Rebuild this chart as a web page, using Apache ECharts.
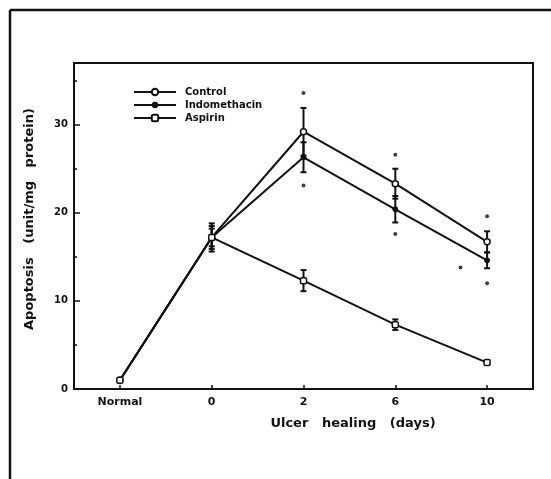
<!DOCTYPE html>
<html>
<head>
<meta charset="utf-8">
<script src="https://cdn.jsdelivr.net/npm/echarts@6/dist/echarts.min.js"></script>
<style>
html,body{margin:0;padding:0;background:#fff;}
#chart{width:551px;height:479px;}
</style>
</head>
<body>
<div id="chart"></div>
<script>
const categories = ['Normal', '0', '2', '6', '10'];
const control = [1.0, 17.2, 29.2, 23.3, 16.7];
const controlErr = [0, 1.6, 2.7, 1.7, 1.2];
const indomethacin = [1.0, 17.2, 26.3, 20.4, 14.6];
const indomethacinErr = [0, 1.3, 1.7, 1.5, 0.9];
const aspirin = [1.0, 17.2, 12.3, 7.3, 3.0];
const aspirinErr = [0, 1.0, 1.2, 0.6, 0.2];
const outlierX = [2, 2, 3, 3, 4, 4, 3.71];
const outlierY = [33.6, 23.1, 26.6, 17.6, 19.6, 12.0, 13.8];
const yMajorTicks = [0, 10, 20, 30];
const yMinorTicks = [5, 15, 25, 35];

const FONT = 'DejaVu Sans';
const INK = '#111';

function pts(arr) { return arr.map((v, i) => [i, v]); }
function errPts(arr, err) { return arr.map((v, i) => [i, v, err[i]]); }

function errRender(params, api) {
  const x = api.value(0), y = api.value(1), e = api.value(2);
  if (!e) return null;
  const top = api.coord([x, y + e]);
  const bot = api.coord([x, y - e]);
  const style = { stroke: INK, lineWidth: 2 };
  return {
    type: 'group',
    children: [
      { type: 'line', shape: { x1: top[0], y1: top[1], x2: bot[0], y2: bot[1] }, style },
      { type: 'line', shape: { x1: top[0] - 3, y1: top[1], x2: top[0] + 3, y2: top[1] }, style },
      { type: 'line', shape: { x1: bot[0] - 3, y1: bot[1], x2: bot[0] + 3, y2: bot[1] }, style }
    ]
  };
}

const chart = echarts.init(document.getElementById('chart'), null, { renderer: 'canvas' });

const lineBase = {
  type: 'line',
  lineStyle: { color: INK, width: 2 },
  symbolSize: 5,
  z: 3
};

chart.setOption({
  backgroundColor: '#fff',
  animation: false,
  grid: { left: 74, top: 63, right: 18, bottom: 90, show: true, borderColor: INK, borderWidth: 2, backgroundColor: 'transparent' },
  legend: {
    left: 128, top: 82, orient: 'vertical',
    itemWidth: 42, itemHeight: 8, itemGap: 3,
    data: ['Control', 'Indomethacin', 'Aspirin'],
    textStyle: { fontFamily: FONT, fontWeight: 'bold', fontSize: 10, color: INK, padding: [0, 0, 0, 4] }
  },
  xAxis: {
    type: 'value', min: -0.5, max: 4.5,
    axisLine: { onZero: false, lineStyle: { color: INK, width: 2 } },
    splitLine: { show: false },
    axisTick: { inside: true, length: 4, customValues: [0, 1, 2, 3, 4], lineStyle: { color: INK, width: 1.5 } },
    axisLabel: {
      customValues: [0, 1, 2, 3, 4],
      formatter: v => categories[Math.round(v)],
      fontFamily: FONT, fontWeight: 'bold', fontSize: 11, color: INK, margin: 8
    }
  },
  yAxis: [{
    type: 'value', min: 0, max: 37,
    axisLine: { show: true, onZero: false, lineStyle: { color: INK, width: 2 } },
    splitLine: { show: false },
    axisTick: { inside: true, length: 6, customValues: yMajorTicks, lineStyle: { color: INK, width: 1.5 } },
    axisLabel: { customValues: yMajorTicks, fontFamily: FONT, fontWeight: 'bold', fontSize: 10, color: INK, margin: 6 }
  }, {
    type: 'value', min: 0, max: 37, position: 'left', offset: 0,
    axisLine: { show: false, onZero: false },
    splitLine: { show: false },
    axisTick: { inside: true, length: 3, customValues: yMinorTicks, lineStyle: { color: INK, width: 1.5 } },
    axisLabel: { show: false }
  }],
  series: [
    Object.assign({}, lineBase, { name: 'Control', data: pts(control), symbol: 'circle', symbolSize: 6, itemStyle: { color: '#fff', borderColor: INK, borderWidth: 1.5 } }),
    Object.assign({}, lineBase, { name: 'Indomethacin', data: pts(indomethacin), symbol: 'circle', symbolSize: 5, itemStyle: { color: INK, borderColor: INK } }),
    Object.assign({}, lineBase, { name: 'Aspirin', data: pts(aspirin), symbol: 'roundRect', symbolSize: 6, itemStyle: { color: '#fff', borderColor: INK, borderWidth: 1.5 } }),
    { type: 'custom', name: 'ctrlErr', renderItem: errRender, data: errPts(control, controlErr), z: 2 },
    { type: 'custom', name: 'indoErr', renderItem: errRender, data: errPts(indomethacin, indomethacinErr), z: 2 },
    { type: 'custom', name: 'aspErr', renderItem: errRender, data: errPts(aspirin, aspirinErr), z: 2 },
    { type: 'scatter', name: 'outliers', data: outlierX.map((x, i) => [x, outlierY[i]]), symbol: 'circle', symbolSize: 4, itemStyle: { color: INK } }
  ],
  graphic: [
    { type: 'line', shape: { x1: 10, y1: 10, x2: 551, y2: 10 }, style: { stroke: INK, lineWidth: 2.5 } },
    { type: 'line', shape: { x1: 10, y1: 10, x2: 10, y2: 479 }, style: { stroke: INK, lineWidth: 2.5 } },
    { type: 'text', x: 353, y: 424, style: { text: 'Ulcer   healing   (days)', font: 'bold 13px "DejaVu Sans"', fill: INK, align: 'center', verticalAlign: 'middle' } },
    { type: 'text', x: 30, y: 219, rotation: Math.PI / 2, style: { text: 'Apoptosis   (unit/mg   protein)', font: 'bold 13px "DejaVu Sans"', fill: INK, align: 'center', verticalAlign: 'middle' } }
  ]
});
</script>
</body>
</html>
